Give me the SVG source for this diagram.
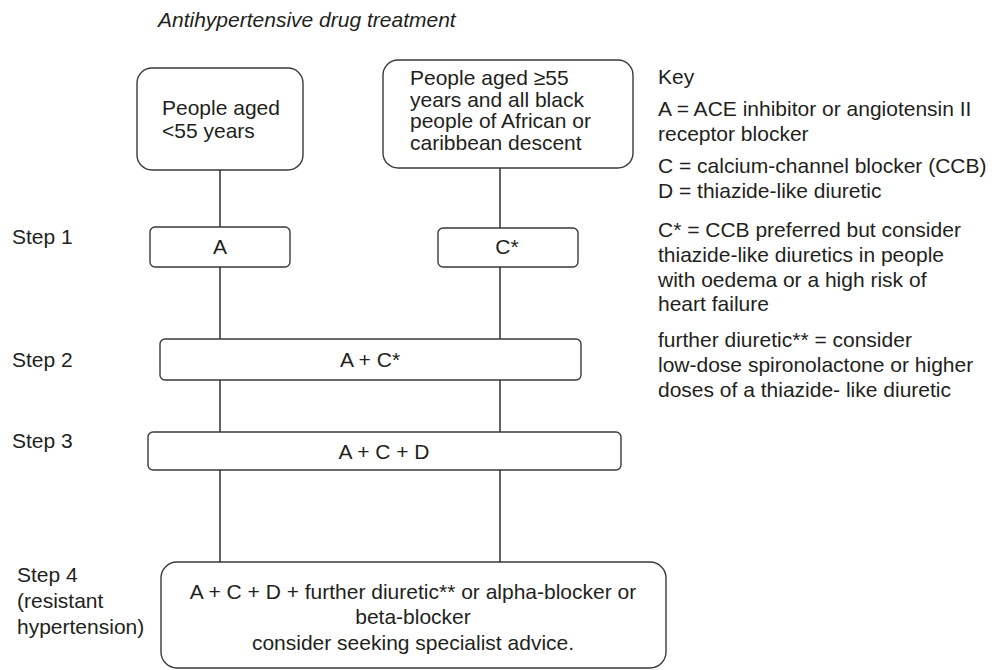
<svg xmlns="http://www.w3.org/2000/svg" width="1005" height="670" viewBox="0 0 1005 670">
  <style>
    text { font-family: "Liberation Sans", Arial, Helvetica, sans-serif; font-size: 21px; fill: #231f20; }
    .title { font-style: italic; }
    .mid { text-anchor: middle; }
    .box { fill: #ffffff; stroke: #3a3a3a; stroke-width: 1.4; }
    .link { stroke: #231f20; stroke-width: 1.4; fill: none; }
  </style>

  <rect x="0" y="0" width="1005" height="670" fill="#ffffff"/>

  <text class="title" x="158" y="27">Antihypertensive drug treatment</text>

  <!-- vertical flow lines, drawn behind the boxes -->
  <g id="connectors">
    <line class="link" x1="220" y1="170" x2="220" y2="562"/>
    <line class="link" x1="500" y1="168" x2="500" y2="562"/>
  </g>

  <g id="group-under-55">
    <rect class="box" x="137" y="68" width="166" height="102" rx="15"/>
    <text x="162" y="115">People aged</text>
    <text x="162" y="138">&lt;55 years</text>
  </g>

  <g id="group-over-55">
    <rect class="box" x="383" y="60" width="250" height="108" rx="15"/>
    <text x="410" y="85">People aged ≥55</text>
    <text x="410" y="107">years and all black</text>
    <text x="410" y="128">people of African or</text>
    <text x="410" y="150">caribbean descent</text>
  </g>

  <g id="step-labels">
    <text x="12" y="244">Step 1</text>
    <text x="12" y="367">Step 2</text>
    <text x="12" y="448">Step 3</text>
    <text x="17" y="582">Step 4</text>
    <text x="17" y="608">(resistant</text>
    <text x="17" y="634">hypertension)</text>
  </g>

  <g id="step1-a">
    <rect class="box" x="150" y="227" width="140" height="40" rx="5"/>
    <text class="mid" x="220" y="254">A</text>
  </g>

  <g id="step1-c">
    <rect class="box" x="438" y="228" width="140" height="39" rx="5"/>
    <text class="mid" x="507" y="254">C*</text>
  </g>

  <g id="step2">
    <rect class="box" x="160" y="339" width="421" height="41" rx="5"/>
    <text class="mid" x="370" y="367">A + C*</text>
  </g>

  <g id="step3">
    <rect class="box" x="148" y="432" width="473" height="38" rx="5"/>
    <text class="mid" x="384" y="459">A + C + D</text>
  </g>

  <g id="step4">
    <rect class="box" x="161" y="562" width="505" height="106" rx="16"/>
    <text class="mid" x="413" y="599">A + C + D + further diuretic** or alpha-blocker or</text>
    <text class="mid" x="413" y="624">beta-blocker</text>
    <text class="mid" x="413" y="650">consider seeking specialist advice.</text>
  </g>

  <g id="key">
    <text x="658" y="84">Key</text>
    <text x="658" y="116">A = ACE inhibitor or angiotensin II</text>
    <text x="658" y="141">receptor blocker</text>
    <text x="658" y="173">C = calcium-channel blocker (CCB)</text>
    <text x="658" y="198">D = thiazide-like diuretic</text>
    <text x="658" y="237">C* = CCB preferred but consider</text>
    <text x="658" y="262">thiazide-like diuretics in people</text>
    <text x="658" y="287">with oedema or a high risk of</text>
    <text x="658" y="311">heart failure</text>
    <text x="658" y="347">further diuretic** = consider</text>
    <text x="658" y="372">low-dose spironolactone or higher</text>
    <text x="658" y="397">doses of a thiazide- like diuretic</text>
  </g>
</svg>
